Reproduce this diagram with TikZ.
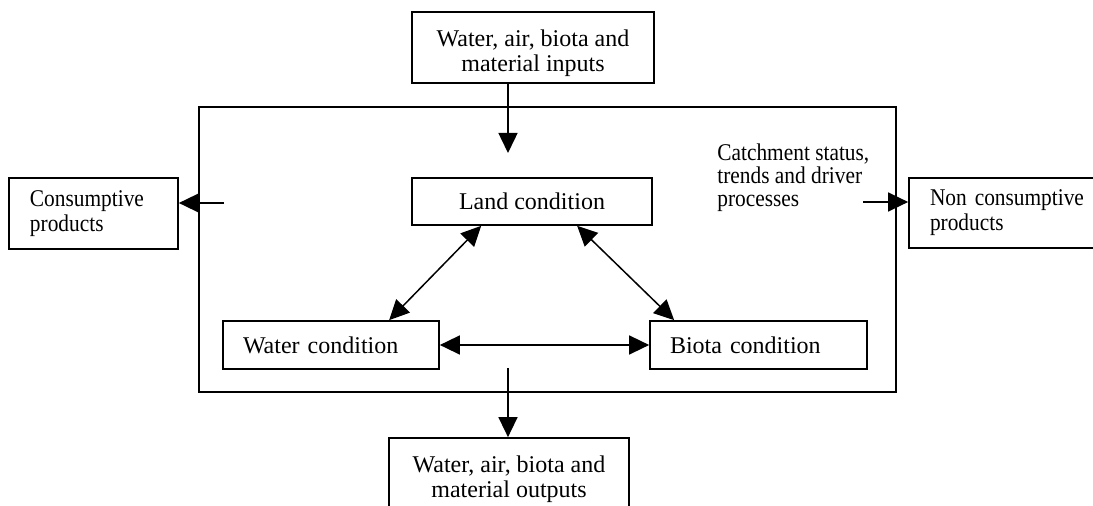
\documentclass[tikz,border=0pt]{standalone}
\usepackage{fontspec}
\setmainfont{Liberation Serif}
\newfontfamily\narrowserif{Liberation Serif}[FakeStretch=0.89]
\usetikzlibrary{arrows.meta}
\begin{document}
\begin{tikzpicture}[x=0.5pt,y=-0.5pt,
  box/.style={draw,line width=0.85pt,rectangle,inner sep=0pt,
    font=\fontsize{12}{12.5}\selectfont},
  narrowbox/.style={box,font=\narrowserif\fontsize{12}{12.5}\selectfont},
  txt/.style={inner sep=0pt,font=\fontsize{12}{12.5}\selectfont},
  arr/.style={line width=0.75pt,-{Triangle[length=10pt,width=9.5pt]}},
  darr/.style={line width=0.75pt,{Triangle[length=10pt,width=9.5pt]}-{Triangle[length=10pt,width=9.5pt]}}]
\useasboundingbox (0,0) rectangle (1093,506);
\clip (0,0) rectangle (1093,506);
% system boundary
\node[draw,line width=0.8pt,minimum width=348.5pt,minimum height=142.5pt,inner sep=0pt] (sys) at (547.5,249.5) {};
% input / output boxes
\node[box,minimum width=121pt,minimum height=35.5pt] (inbox) at (533,47.5) {};
\node[txt,anchor=base,align=center] (intext) at (533,72) {Water, air, biota and\\material inputs};
\node[box,minimum width=120pt,minimum height=35.5pt] (outbox) at (509,473.5) {};
\node[txt,anchor=base,align=center] (outtext) at (509,498) {Water, air, biota and\\material outputs};
% product boxes
\node[narrowbox,minimum width=84.5pt,minimum height=35.5pt,text width=63.5pt,inner xsep=10.5pt,align=left] (cons) at (93.5,213.5) {Consumptive\\products};
\node[narrowbox,minimum width=121pt,minimum height=35pt,text width=100pt,inner xsep=10.5pt,align=left] (noncons) at (1030,213) {Non consumptive\\products};
% condition boxes
\node[box,minimum width=120pt,minimum height=23.5pt,align=center] (land) at (532,201.5) {Land condition};
\node[box,minimum width=108pt,minimum height=24pt,text width=88pt,inner xsep=10pt,align=left] (water) at (331,345) {Water condition};
\node[box,minimum width=108.5pt,minimum height=24pt,text width=88.5pt,inner xsep=10pt,align=left] (biota) at (758.5,345) {Biota condition};
\node[anchor=base west,inner sep=0pt,align=left,font=\narrowserif\fontsize{12}{11.5}\selectfont] (status) at (717,207) {Catchment status,\\trends and driver\\processes};
% coordinates
\coordinate (inTip) at (508,153);
\coordinate (cStart) at (224,203);
\coordinate (ncStart) at (863,202);
\coordinate (outStart) at (508,368);
% connectors
\draw[arr] (inbox.south -| inTip) -- (inTip);
\draw[arr] (cStart) -- (cons.east |- cStart);
\draw[arr] (ncStart) -- (noncons.west |- ncStart);
\draw[arr] (outStart) -- (outbox.north -| outStart);
\draw[darr] ([xshift=35pt]land.south west) -- ([xshift=83.5pt]water.north west);
\draw[darr] ([xshift=83pt]land.south west) -- ([xshift=12.5pt]biota.north west);
\draw[darr] (water.east) -- (biota.west);
\end{tikzpicture}
\end{document}
